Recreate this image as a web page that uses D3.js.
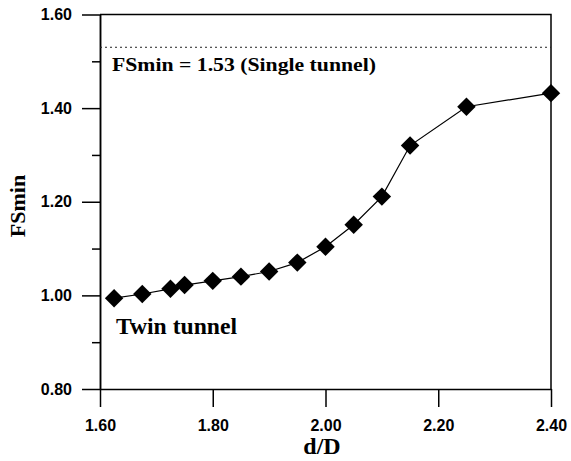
<!DOCTYPE html>
<html>
<head>
<meta charset="utf-8">
<script src="https://cdn.jsdelivr.net/npm/d3@7"></script>
<style>
  html, body { margin: 0; padding: 0; background: #fff; }
  svg { display: block; }
</style>
</head>
<body>
<div id="chart"></div>
<script>
// data
var dD = [1.625, 1.675, 1.725, 1.75, 1.80, 1.85, 1.90, 1.95, 2.00, 2.05, 2.10, 2.15, 2.25, 2.40];
var fsMin = [0.994, 1.003, 1.014, 1.022, 1.031, 1.040, 1.051, 1.070, 1.104, 1.151, 1.211, 1.320, 1.403, 1.432];
var singleTunnelFS = 1.53;
var xTicks = [1.6, 1.8, 2.0, 2.2, 2.4];
var yTicks = [0.8, 1.0, 1.2, 1.4, 1.6];
var yMinorTicks = [0.9, 1.1, 1.3, 1.5];

!function() {
    var width = 571, height = 461;
    var plotLeft = 100, plotRight = 551, plotTop = 14.5, plotBottom = 389;

    var fmt = d3.format(".2f");
    var sansFont = "'Liberation Sans', Arial, sans-serif";
    var serifFont = "'Liberation Serif', 'Times New Roman', serif";

    var x = d3.scaleLinear().domain([1.6, 2.4]).range([plotLeft, plotRight]);
    var y = d3.scaleLinear().domain([0.8, 1.6]).range([plotBottom, plotTop]);

    var svg = d3.select("#chart").append("svg")
        .attr("width", width)
        .attr("height", height);

    // frame: top and right lines
    svg.append("path")
        .attr("d", "M" + plotLeft + " " + plotTop + " L" + plotRight + " " + plotTop + " L" + plotRight + " " + plotBottom)
        .attr("fill", "none")
        .attr("stroke", "#000")
        .attr("stroke-width", 1.5);

    // y axis, major ticks
    svg.append("g")
        .attr("transform", "translate(" + plotLeft + ",0)")
        .call(d3.axisLeft(y).tickValues(yTicks).tickFormat(fmt).tickSize(18).tickSizeOuter(0).tickPadding(10));
    // y axis, minor ticks
    svg.append("g")
        .attr("transform", "translate(" + plotLeft + ",0)")
        .call(d3.axisLeft(y).tickValues(yMinorTicks).tickFormat("").tickSize(8).tickSizeOuter(0));

    // x axis
    svg.append("g")
        .attr("transform", "translate(0," + plotBottom + ")")
        .call(d3.axisBottom(x).tickValues(xTicks).tickFormat(fmt).tickSize(18).tickSizeOuter(0).tickPadding(13));

    svg.selectAll(".domain, .tick line")
        .attr("stroke", "#000")
        .attr("stroke-width", 1.5);

    svg.selectAll(".tick text")
        .attr("fill", "#000")
        .style("font-family", sansFont)
        .style("font-weight", "bold")
        .style("font-size", "16px");

    // single tunnel reference line
    svg.append("line")
        .attr("x1", plotLeft).attr("x2", plotRight)
        .attr("y1", y(singleTunnelFS)).attr("y2", y(singleTunnelFS))
        .attr("stroke", "#222")
        .attr("stroke-width", 1)
        .attr("stroke-dasharray", "2,3");

    svg.append("text")
        .attr("x", 112)
        .attr("y", 71)
        .attr("textLength", 264)
        .attr("lengthAdjust", "spacingAndGlyphs")
        .style("font-family", serifFont)
        .style("font-weight", "bold")
        .style("font-size", "19px")
        .text("FSmin = " + fmt(singleTunnelFS) + " (Single tunnel)");

    // twin tunnel curve
    var pts = dD.map(function(d, i) { return [d, fsMin[i]]; });

    svg.append("path")
        .datum(pts)
        .attr("fill", "none")
        .attr("stroke", "#000")
        .attr("stroke-width", 1.2)
        .attr("d", d3.line().x(function(d) { return x(d[0]); }).y(function(d) { return y(d[1]); }));

    svg.selectAll(".pt")
        .data(pts).enter()
        .append("path")
        .attr("class", "pt")
        .attr("d", d3.symbol().type(d3.symbolSquare).size(170))
        .attr("fill", "#000")
        .attr("transform", function(d) {
            return "translate(" + x(d[0]) + "," + y(d[1]) + ") rotate(45)";
        });

    svg.append("text")
        .attr("x", 116)
        .attr("y", 334)
        .attr("textLength", 121)
        .attr("lengthAdjust", "spacingAndGlyphs")
        .style("font-family", serifFont)
        .style("font-weight", "bold")
        .style("font-size", "23px")
        .text("Twin tunnel");

    // axis titles
    svg.append("text")
        .attr("x", 322)
        .attr("y", 454)
        .attr("text-anchor", "middle")
        .style("font-family", serifFont)
        .style("font-weight", "bold")
        .style("font-size", "24px")
        .text("d/D");

    svg.append("text")
        .attr("transform", "translate(25,206) rotate(-90)")
        .attr("text-anchor", "middle")
        .style("font-family", serifFont)
        .style("font-weight", "bold")
        .style("font-size", "22px")
        .text("FSmin");
}();
</script>
</body>
</html>
